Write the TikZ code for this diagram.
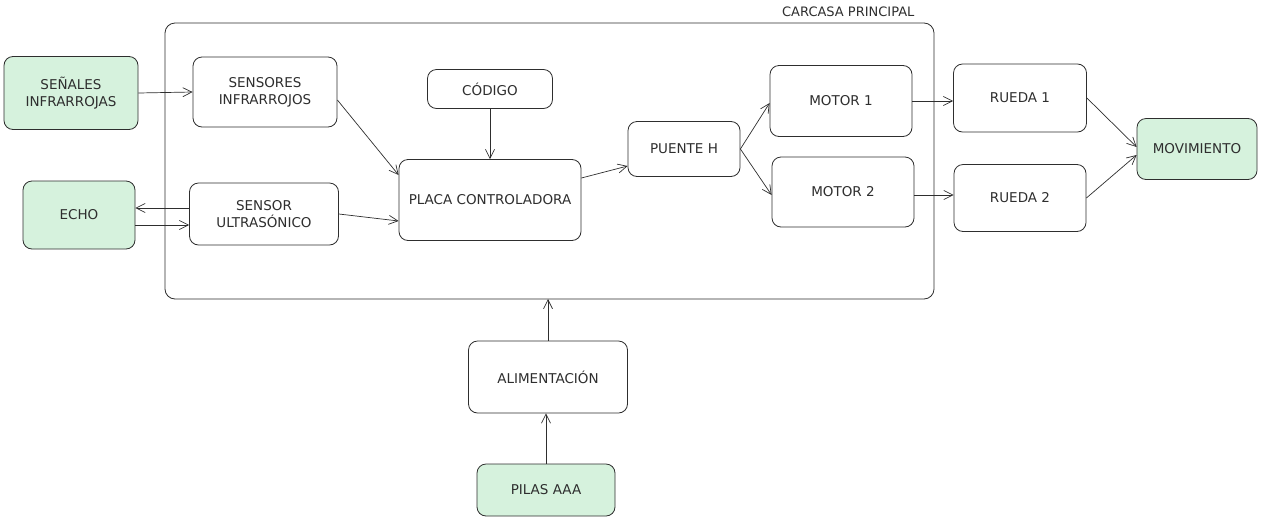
\documentclass[tikz,border=0pt]{standalone}
\usepackage{fontspec}
\setmainfont{DejaVu Sans}
\usetikzlibrary{arrows.meta}
\definecolor{ink}{HTML}{2E2E2E}
\definecolor{mint}{HTML}{D6F2DD}
\tikzset{
  box/.style={draw=ink, line width=0.8pt, rounded corners=9pt, fill=white, align=center,
    font=\fontsize{13.5}{17}\selectfont, text=ink, inner sep=0pt},
  gbox/.style={box, fill=mint},
  conn/.style={draw=ink, line width=0.7pt, -{Straight Barb[length=9pt,width=9pt]}},
}
\begin{document}
\begin{tikzpicture}[x=1pt,y=-1pt]
\useasboundingbox (0,0) rectangle (1280,520);
% main housing
\draw[draw=ink, line width=0.8pt, rounded corners=10pt] (165,23) rectangle (934,299);
\node[anchor=east, font=\fontsize{13}{15}\selectfont, text=ink] (lbl) at (918,12) {CARCASA PRINCIPAL};
\coordinate (cb) at (548,299);

\node[gbox, minimum width=134pt, minimum height=73pt] (sen) at (71,93) {SEÑALES\\INFRARROJAS};
\node[box, minimum width=144pt, minimum height=70pt] (sir) at (265,92) {SENSORES\\INFRARROJOS};
\node[gbox, minimum width=112pt, minimum height=68pt] (echo) at (79,215) {ECHO};
\node[box, minimum width=149pt, minimum height=62pt] (sus) at (264,214) {SENSOR\\ULTRASÓNICO};
\node[box, minimum width=125pt, minimum height=39pt] (cod) at (490,89) {CÓDIGO};
\node[box, minimum width=182pt, minimum height=81pt] (pla) at (490,200) {PLACA CONTROLADORA};
\node[box, minimum width=112pt, minimum height=55pt] (ph) at (684,149) {PUENTE H};
\node[box, minimum width=142pt, minimum height=71pt] (m1) at (841,101) {MOTOR 1};
\node[box, minimum width=142pt, minimum height=70pt] (m2) at (843,192) {MOTOR 2};
\node[box, minimum width=133pt, minimum height=68pt] (r1) at (1020,98) {RUEDA 1};
\node[box, minimum width=132pt, minimum height=67pt] (r2) at (1020,198) {RUEDA 2};
\node[gbox, minimum width=120pt, minimum height=61pt] (mov) at (1197,149) {MOVIMIENTO};
\node[box, minimum width=159pt, minimum height=72pt] (ali) at (548,377) {ALIMENTACIÓN};
\node[gbox, minimum width=138pt, minimum height=52pt] (pil) at (546,490) {PILAS AAA};

\draw[conn] (sen.east) -- (sir.west);
\draw[conn] (sir.east |- 0,100) -- (pla.west |- 0,175);
\draw[conn] (sus.west |- 0,208) -- (echo.east |- 0,208);
\draw[conn] (echo.east |- 0,225) -- (sus.west |- 0,225);
\draw[conn] (sus.east) -- (pla.west |- 0,221);
\draw[conn] (cod.south) -- (pla.north);
\draw[conn] (pla.east |- 0,178) -- (ph.west |- 0,166);
\draw[conn] (ph.east) -- (m1.west |- 0,103);
\draw[conn] (ph.east) -- (m2.west |- 0,195);
\draw[conn] (m1.east) -- (r1.west |- 0,101);
\draw[conn] (m2.east |- 0,195) -- (r2.west |- 0,195);
\draw[conn] (r1.east) -- (mov.west |- 0,147);
\draw[conn] (r2.east) -- (mov.west |- 0,155);
\draw[conn] (ali.north) -- (cb);
\draw[conn] (pil.north) -- (pil.north |- ali.south);
\end{tikzpicture}
\end{document}
